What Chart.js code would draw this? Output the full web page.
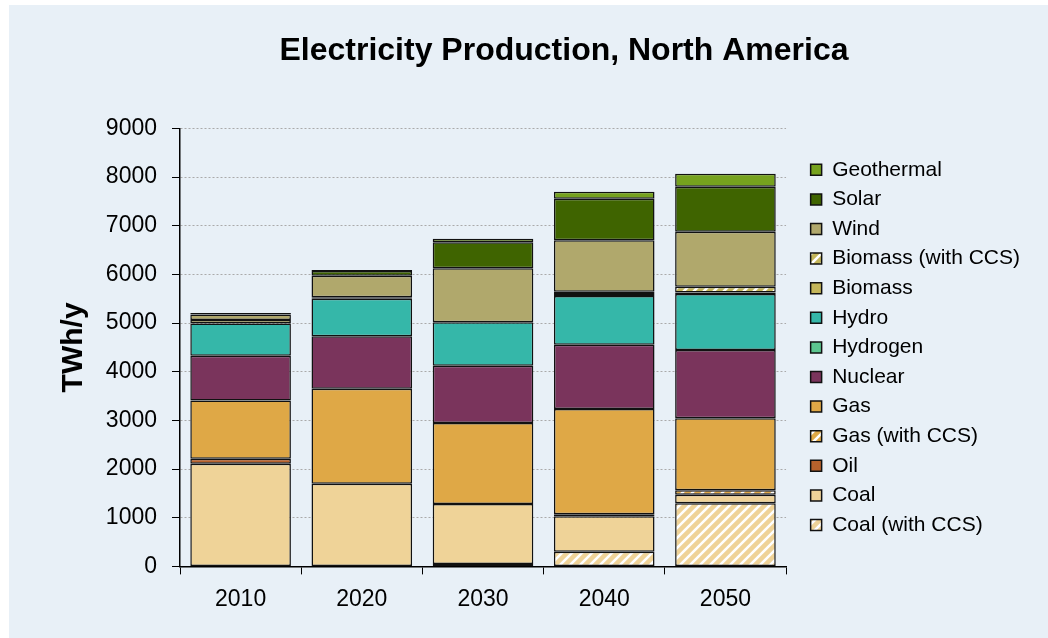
<!DOCTYPE html>
<html>
<head>
<meta charset="utf-8">
<script src="https://cdn.jsdelivr.net/npm/chart.js@4"></script>
<style>
  html, body { margin: 0; padding: 0; background: #ffffff; }
  #panel { position: absolute; left: 9px; top: 5px; width: 1039px; height: 633px; background: #e8f0f7; }
  #wrap { position: absolute; left: 0; top: 0; width: 1048px; height: 638px; }
</style>
</head>
<body>
<div id="panel"></div>
<div id="wrap"><canvas id="chart" width="1048" height="638"></canvas></div>
<script>
// Kategorien (Jahre)
const years = ["2010", "2020", "2030", "2040", "2050"];

// Werte je Energieträger, TWh/y (aus dem Bild geschätzt)
const coalCCS = [0, 0, 50, 300, 1300];
const coal = [2110, 1700, 1230, 730, 170];
const oil = [100, 0, 0, 0, 0];
const gasCCS = [0, 0, 0, 40, 95];
const gas = [1200, 1950, 1665, 2165, 1480];
const nuclear = [920, 1080, 1180, 1320, 1400];
const hydrogen = [0, 0, 0, 0, 0];
const hydro = [660, 770, 890, 1000, 1150];
const biomass = [75, 30, 0, 40, 35];
const biomassCCS = [0, 0, 0, 50, 115];
const wind = [110, 440, 1110, 1055, 1130];
const solar = [10, 100, 534, 856, 925];
const geothermal = [20, 20, 76, 144, 267];

// Achsenbeschriftungen
const yTicks = [0, 1000, 2000, 3000, 4000, 5000, 6000, 7000, 8000, 9000];

const FONT = "Arial, 'Liberation Sans', sans-serif";

// Schraffur für die CCS-Varianten
function hatch(color) {
  let c = document.createElement("canvas");
  c.width = 10;
  c.height = 10;
  let g = c.getContext("2d");
  g.fillStyle = "#ffffff";
  g.fillRect(0, 0, 10, 10);
  g.strokeStyle = color;
  g.lineWidth = 4.5;
  g.beginPath();
  g.moveTo(-2, 12); g.lineTo(12, -2);
  g.moveTo(-7, 7); g.lineTo(7, -7);
  g.moveTo(3, 17); g.lineTo(17, 3);
  g.stroke();
  return g.createPattern(c, "repeat");
}

function series(label, data, color) {
  return {
    label: label,
    data: data,
    backgroundColor: color,
    borderColor: "#111111",
    borderWidth: 1.5,
    borderSkipped: false,
    barPercentage: 0.83,
    categoryPercentage: 1.0,
  };
}

let datasets = [
  series("Coal (with CCS)", coalCCS, hatch("#efd398")),
  series("Coal", coal, "#efd398"),
  series("Oil", oil, "#b8622c"),
  series("Gas (with CCS)", gasCCS, hatch("#dfa846")),
  series("Gas", gas, "#dfa846"),
  series("Nuclear", nuclear, "#7a345c"),
  series("Hydrogen", hydrogen, "#5cc68f"),
  series("Hydro", hydro, "#35b7a9"),
  series("Biomass", biomass, "#c4b65a"),
  series("Biomass (with CCS)", biomassCCS, hatch("#c4b65a")),
  series("Wind", wind, "#b0a86c"),
  series("Solar", solar, "#3f6400"),
  series("Geothermal", geothermal, "#76a21e"),
];

let ctx = document.getElementById("chart").getContext("2d");
new Chart(ctx, {
  type: "bar",
  data: { labels: years, datasets: datasets },
  options: {
    responsive: false,
    animation: false,
    layout: { padding: { left: 98, right: 18, top: 0, bottom: 14 } },
    plugins: {
      title: {
        display: true,
        text: "Electricity Production, North America",
        color: "#000000",
        font: { family: FONT, size: 32, weight: "bold" },
        padding: { top: 32, bottom: 58 },
      },
      legend: {
        position: "right",
        fullSize: false,
        reverse: true,
        maxWidth: 400,
        labels: {
          color: "#000000",
          font: { family: FONT, size: 21 },
          boxWidth: 11,
          boxHeight: 11,
          padding: 8.6,
        },
      },
      tooltip: { enabled: false },
    },
    scales: {
      x: {
        stacked: true,
        grid: { display: true, drawOnChartArea: false, drawTicks: true, tickLength: 8, color: "#000000", offset: true },
        border: { display: true, color: "#000000", width: 1.5 },
        ticks: { color: "#000000", font: { family: FONT, size: 23 }, padding: 11 },
      },
      y: {
        stacked: true,
        min: 0,
        max: 9000,
        afterBuildTicks: (scale) => {
          scale.ticks = yTicks.map((v) => ({ value: v }));
        },
        afterFit: (scale) => {
          scale.width = 82;
        },
        grid: { color: "#aaaaaa", tickColor: "#000000", tickLength: 8, lineWidth: 1 },
        border: { display: true, color: "#000000", width: 1.5, dash: [2, 2] },
        ticks: {
          color: "#000000",
          font: { family: FONT, size: 23 },
          padding: 15,
          callback: (v) => String(v),
        },
        title: {
          display: true,
          text: "TWh/y",
          color: "#000000",
          font: { family: FONT, size: 30, weight: "bold" },
          padding: { top: -42, bottom: 0 },
        },
      },
      // leere Achse als Abstand zwischen Diagramm und Legende
      spacer: {
        type: "linear",
        position: "right",
        display: true,
        grid: { display: false },
        border: { display: false },
        ticks: { display: false },
        afterFit: (scale) => {
          scale.width = 16;
        },
      },
    },
  },
});
</script>
</body>
</html>
